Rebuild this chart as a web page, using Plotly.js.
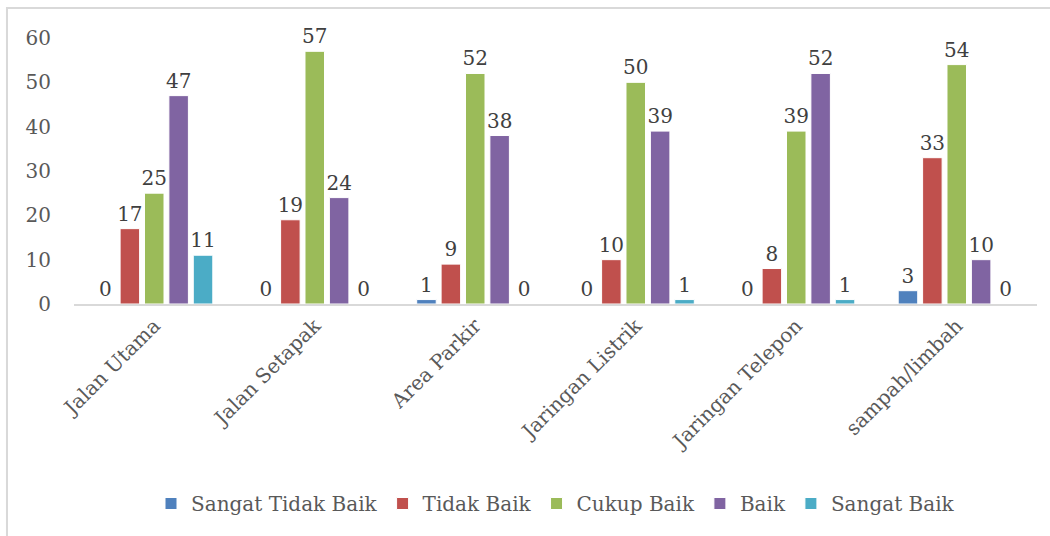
<!DOCTYPE html>
<html>
<head>
<meta charset="utf-8">
<script src="https://cdn.plot.ly/plotly-3.0.1.min.js"></script>
<style>html,body{margin:0;padding:0;background:#fff;}#chart{width:1050px;height:536px;}</style>
</head>
<body>
<div id="chart"></div>
<script>
const categories = ["Jalan Utama", "Jalan Setapak", "Area Parkir", "Jaringan Listrik", "Jaringan Telepon", "sampah/limbah"];
const seriesNames = ["Sangat Tidak Baik", "Tidak Baik", "Cukup Baik", "Baik", "Sangat Baik"];
const sangatTidakBaik = [0, 0, 1, 0, 0, 3];
const tidakBaik = [17, 19, 9, 10, 8, 33];
const cukupBaik = [25, 57, 52, 50, 39, 54];
const baik = [47, 24, 38, 39, 52, 10];
const sangatBaik = [11, 0, 0, 1, 1, 0];
const yTicks = [0, 10, 20, 30, 40, 50, 60];

const colors = ["#4F81BD", "#C0504D", "#9BBB59", "#8064A2", "#4BACC6"];
const values = [sangatTidakBaik, tidakBaik, cukupBaik, baik, sangatBaik];
const font = "DejaVu Serif, serif";

const traces = values.map((v, i) => ({
  type: "bar",
  name: seriesNames[i],
  x: categories,
  y: v,
  text: v.map(String),
  textposition: "outside",
  constraintext: "none",
  textfont: {family: font, size: 20, color: "#404040"},
  cliponaxis: false,
  marker: {color: colors[i], line: {color: "#ffffff", width: 1}},
  hoverinfo: "x+y+name"
}));

const layout = {
  width: 1050, height: 536,
  margin: {l: 74, r: 13, t: 38, b: 232},
  paper_bgcolor: "#ffffff",
  plot_bgcolor: "#ffffff",
  barmode: "group",
  bargap: 0.24,
  bargroupgap: 0.2,
  font: {family: font, size: 20, color: "#404040"},
  xaxis: {
    tickangle: -45,
    tickfont: {family: font, size: 20, color: "#595959"},
    showline: true, linecolor: "#d9d9d9", linewidth: 2,
    ticks: "", showgrid: false, zeroline: false
  },
  yaxis: {
    range: [0, 60],
    tickvals: yTicks,
    ticktext: yTicks.map(String),
    tickfont: {family: font, size: 20, color: "#595959"},
    showgrid: false, zeroline: false, showline: false, ticks: "",
    ticklabelstandoff: 22
  },
  legend: {
    orientation: "h",
    x: 0.5, xanchor: "center",
    y: -0.75, yanchor: "middle",
    font: {family: font, size: 20, color: "#595959"},
    itemwidth: 30,
    traceorder: "normal"
  },
  shapes: [{
    type: "rect", xref: "paper", yref: "paper",
    x0: -0.0696, x1: 1.03, y0: -0.9, y1: 1.1128,
    line: {color: "#d9d9d9", width: 2}, fillcolor: "rgba(0,0,0,0)", layer: "below"
  }],
  showlegend: true
};

Plotly.newPlot("chart", traces, layout, {displayModeBar: false, staticPlot: true});
</script>
</body>
</html>
